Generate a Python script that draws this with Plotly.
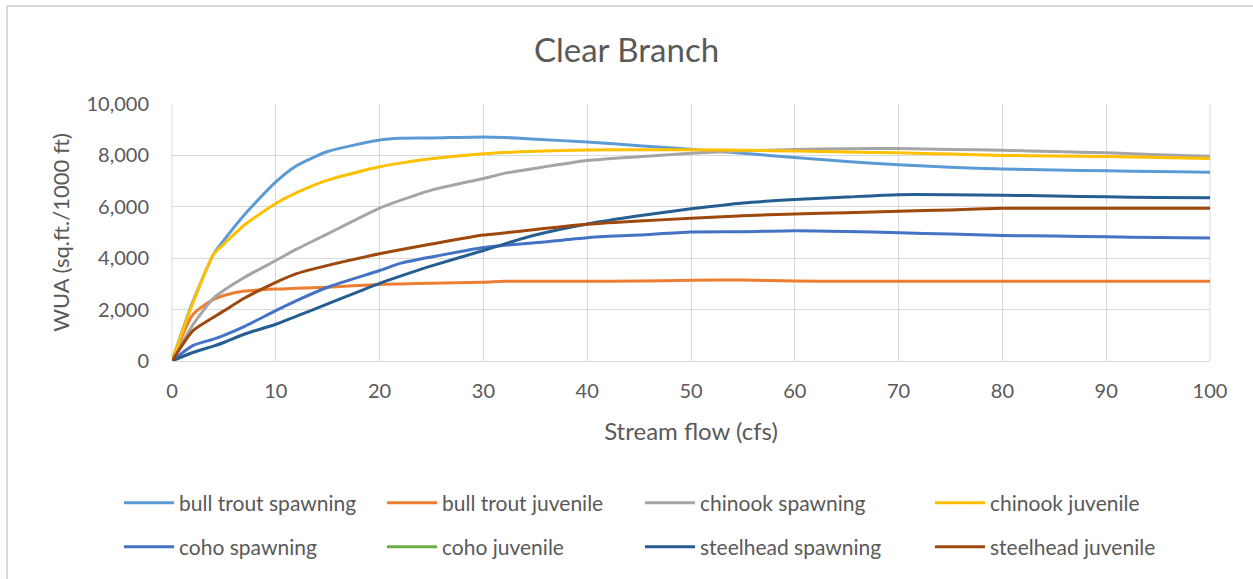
import plotly.graph_objects as go

flow = [0, 2, 4, 5, 7, 10, 12, 15, 20, 22, 25, 30, 32, 35, 40, 45, 50, 55, 60, 65, 70, 75, 80, 85, 90, 95, 100]

bull_trout_spawning = [0, 2300, 4150, 4700, 5700, 6970, 7600, 8150, 8600, 8670, 8680, 8720, 8700, 8630, 8520, 8380, 8240, 8080, 7920, 7760, 7640, 7540, 7470, 7430, 7400, 7370, 7340]
bull_trout_juvenile = [0, 1800, 2400, 2550, 2720, 2800, 2830, 2870, 2980, 3000, 3030, 3060, 3100, 3100, 3100, 3110, 3140, 3150, 3110, 3100, 3100, 3100, 3100, 3100, 3100, 3100, 3100]
chinook_spawning = [0, 1400, 2450, 2750, 3260, 3910, 4350, 4950, 5950, 6250, 6650, 7100, 7300, 7500, 7800, 7950, 8080, 8170, 8230, 8260, 8270, 8230, 8200, 8150, 8100, 8030, 7970]
chinook_juvenile = [0, 2250, 4150, 4550, 5300, 6130, 6550, 7040, 7560, 7700, 7870, 8060, 8110, 8160, 8210, 8220, 8220, 8200, 8170, 8130, 8100, 8050, 8000, 7980, 7960, 7920, 7880]
coho_spawning = [0, 600, 850, 1000, 1350, 1960, 2350, 2870, 3520, 3800, 4050, 4420, 4500, 4600, 4800, 4900, 5020, 5030, 5070, 5040, 4990, 4940, 4880, 4860, 4830, 4810, 4790]
coho_juvenile = []  # no visible data in the reference
steelhead_spawning = [0, 330, 580, 720, 1050, 1430, 1750, 2220, 3020, 3300, 3700, 4300, 4550, 4900, 5330, 5650, 5920, 6150, 6280, 6380, 6470, 6470, 6450, 6420, 6390, 6360, 6350]
steelhead_juvenile = [0, 1170, 1700, 1950, 2450, 3060, 3400, 3720, 4170, 4330, 4550, 4900, 4980, 5120, 5320, 5450, 5550, 5650, 5720, 5770, 5830, 5880, 5940, 5940, 5940, 5940, 5940]

series_names = ["bull trout spawning", "bull trout juvenile", "chinook spawning", "chinook juvenile",
                "coho spawning", "coho juvenile", "steelhead spawning", "steelhead juvenile"]
series_values = [bull_trout_spawning, bull_trout_juvenile, chinook_spawning, chinook_juvenile,
                 coho_spawning, coho_juvenile, steelhead_spawning, steelhead_juvenile]
colors = ["#5B9BD5", "#ED7D31", "#A5A5A5", "#FFC000", "#4472C4", "#70AD47", "#255E91", "#9E480E"]

W, H = 1253, 579
L, R, T, B = 172, 1210, 104, 361
FONT = "Lato"
TXT = "#595959"

def px_x(p):
    return (p - L) / (R - L)

def px_y(p):
    return (B - p) / (B - T)

# legend box left edges / row centres (pixels)
leg_cols = [119, 382, 640, 930]
leg_rows = [503, 547]

fig = go.Figure()
for i in range(8):
    vals = series_values[i]
    xs = flow[:len(vals)] if vals else [None]
    ys = vals if vals else [None]
    leg_id = "legend" if i == 0 else f"legend{i+1}"
    fig.add_trace(go.Scatter(
        x=xs, y=ys, name=series_names[i], mode="lines",
        line=dict(color=colors[i], width=3, shape="spline", smoothing=0.6),
        legend=leg_id, showlegend=True,
    ))

layout_legends = {}
for i in range(8):
    r, c = divmod(i, 4)
    key = "legend" if i == 0 else f"legend{i+1}"
    layout_legends[key] = dict(
        x=px_x(leg_cols[c]), y=px_y(leg_rows[r]), xanchor="left", yanchor="middle",
        xref="paper", yref="paper",
        font=dict(family=FONT, size=21, color=TXT), bgcolor="rgba(0,0,0,0)",
        itemwidth=50,
    )

fig.update_layout(
    width=W, height=H,
    margin=dict(l=L, r=W - R, t=T, b=H - B, autoexpand=False),
    paper_bgcolor="white", plot_bgcolor="white",
    title=dict(text="Clear Branch", x=0.5, xanchor="center", y=1 - 50 / H, yanchor="middle",
               font=dict(family=FONT, size=33, color=TXT)),
    font=dict(family=FONT, color=TXT),
    xaxis=dict(range=[0, 100], dtick=10, tick0=0, showgrid=True, gridcolor="#D9D9D9", gridwidth=1,
               showline=True, linecolor="#D9D9D9", linewidth=1, zeroline=False,
               ticks="", ticklabelstandoff=12,
               tickfont=dict(family=FONT, size=20, color=TXT),
               title=dict(text="Stream flow (cfs)", font=dict(family=FONT, size=24, color=TXT), standoff=22),
               mirror=False),
    yaxis=dict(range=[0, 10000], dtick=2000, tick0=0, showgrid=True, gridcolor="#D9D9D9", gridwidth=1,
               showline=False, zeroline=False, ticks="", tickformat=",d", ticklabelstandoff=22,
               tickfont=dict(family=FONT, size=20, color=TXT),
               title=dict(text="WUA (sq.ft./1000 ft)", font=dict(family=FONT, size=22, color=TXT), standoff=10)),
    shapes=[
        dict(type="line", xref="paper", yref="paper", x0=0, x1=0, y0=0, y1=1,
             line=dict(color="#D9D9D9", width=1), layer="below"),
        dict(type="line", xref="paper", yref="paper", x0=1, x1=1, y0=0, y1=1,
             line=dict(color="#D9D9D9", width=1), layer="below"),
        dict(type="line", xref="paper", yref="paper", x0=px_x(7), x1=px_x(W + 5), y0=px_y(6), y1=px_y(6),
             line=dict(color="#D9D9D9", width=2)),
        dict(type="line", xref="paper", yref="paper", x0=px_x(7), x1=px_x(7), y0=px_y(6), y1=px_y(H + 5),
             line=dict(color="#D9D9D9", width=2)),
    ],
    **layout_legends,
)

fig.write_html("out.html")
